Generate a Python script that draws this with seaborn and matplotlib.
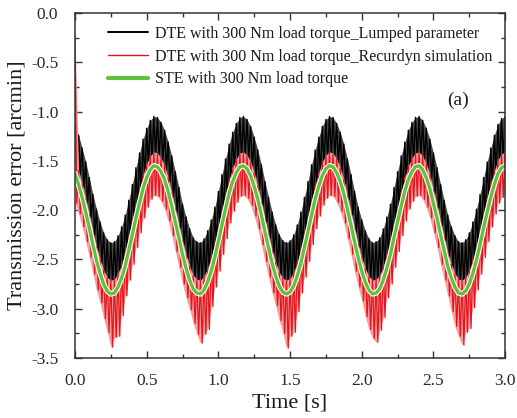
import numpy as np
import pandas as pd
import matplotlib
matplotlib.use("Agg")
import matplotlib.pyplot as plt
import matplotlib.patheffects as pe
from matplotlib.lines import Line2D
from matplotlib.ticker import MultipleLocator
import seaborn as sns

# ---------------- data (step 0.025 s) ----------------
time_s = np.round(np.arange(0, 121) * 0.025, 4)

ste = [-1.63, -1.74, -1.87, -2.02, -2.18, -2.35, -2.51, -2.64, -2.75, -2.82, -2.85,
       -2.84, -2.78, -2.69, -2.57, -2.41, -2.25, -2.08, -1.93, -1.78, -1.67, -1.59,
       -1.55, -1.56, -1.61, -1.69, -1.81, -1.96, -2.12, -2.28, -2.45, -2.59, -2.71,
       -2.80, -2.84, -2.85, -2.81, -2.73, -2.62, -2.48, -2.32, -2.15, -1.99, -1.83,
       -1.71, -1.62, -1.56, -1.55, -1.58, -1.65, -1.76, -1.89, -2.05, -2.22, -2.38,
       -2.54, -2.67, -2.77, -2.83, -2.85, -2.83, -2.77, -2.67, -2.54, -2.38, -2.22,
       -2.05, -1.89, -1.76, -1.65, -1.58, -1.55, -1.56, -1.62, -1.71, -1.83, -1.99,
       -2.15, -2.32, -2.48, -2.62, -2.73, -2.81, -2.85, -2.84, -2.80, -2.71, -2.59,
       -2.45, -2.28, -2.12, -1.96, -1.81, -1.69, -1.61, -1.56, -1.55, -1.59, -1.67,
       -1.78, -1.93, -2.08, -2.25, -2.41, -2.57, -2.69, -2.78, -2.84, -2.85, -2.82,
       -2.75, -2.64, -2.51, -2.35, -2.18, -2.02, -1.87, -1.74, -1.63, -1.57, -1.55]

dte_lumped_upper = [
    -1.13, -1.24, -1.37, -1.51, -1.67, -1.84, -1.99, -2.12, -2.23, -2.30, -2.33,
    -2.32, -2.26, -2.17, -2.05, -1.90, -1.74, -1.57, -1.42, -1.28, -1.17, -1.09,
    -1.05, -1.06, -1.11, -1.19, -1.31, -1.45, -1.61, -1.77, -1.94, -2.07, -2.19,
    -2.28, -2.32, -2.33, -2.29, -2.21, -2.10, -1.97, -1.81, -1.64, -1.48, -1.33,
    -1.21, -1.12, -1.06, -1.05, -1.08, -1.15, -1.26, -1.39, -1.54, -1.71, -1.87,
    -2.02, -2.15, -2.25, -2.31, -2.33, -2.31, -2.25, -2.15, -2.02, -1.87, -1.71,
    -1.54, -1.39, -1.26, -1.15, -1.08, -1.05, -1.06, -1.12, -1.21, -1.33, -1.48,
    -1.64, -1.81, -1.97, -2.10, -2.21, -2.29, -2.33, -2.32, -2.28, -2.19, -2.07,
    -1.94, -1.77, -1.61, -1.45, -1.31, -1.19, -1.11, -1.06, -1.05, -1.09, -1.17,
    -1.28, -1.42, -1.57, -1.74, -1.90, -2.05, -2.17, -2.26, -2.32, -2.33, -2.30,
    -2.23, -2.12, -1.99, -1.84, -1.67, -1.51, -1.37, -1.24, -1.13, -1.07, -1.05]

dte_lumped_lower = [
    -1.53, -1.64, -1.77, -1.92, -2.08, -2.25, -2.41, -2.54, -2.65, -2.72, -2.75,
    -2.74, -2.68, -2.59, -2.47, -2.31, -2.15, -1.98, -1.83, -1.68, -1.57, -1.49,
    -1.45, -1.46, -1.51, -1.59, -1.71, -1.86, -2.02, -2.18, -2.35, -2.49, -2.61,
    -2.70, -2.74, -2.75, -2.71, -2.63, -2.52, -2.38, -2.22, -2.05, -1.89, -1.73,
    -1.61, -1.52, -1.46, -1.45, -1.48, -1.55, -1.66, -1.79, -1.95, -2.12, -2.28,
    -2.44, -2.57, -2.67, -2.73, -2.75, -2.73, -2.67, -2.57, -2.44, -2.28, -2.12,
    -1.95, -1.79, -1.66, -1.55, -1.48, -1.45, -1.46, -1.52, -1.61, -1.73, -1.89,
    -2.05, -2.22, -2.38, -2.52, -2.63, -2.71, -2.75, -2.74, -2.70, -2.61, -2.49,
    -2.35, -2.18, -2.02, -1.86, -1.71, -1.59, -1.51, -1.46, -1.45, -1.49, -1.57,
    -1.68, -1.83, -1.98, -2.15, -2.31, -2.47, -2.59, -2.68, -2.74, -2.75, -2.72,
    -2.65, -2.54, -2.41, -2.25, -2.08, -1.92, -1.77, -1.64, -1.53, -1.47, -1.45]

dte_recurdyn_upper = [
    -0.22, -1.60, -1.73, -1.88, -2.04, -2.21, -2.37, -2.50, -2.61, -2.68, -2.71,
    -2.70, -2.64, -2.55, -2.43, -2.27, -2.11, -1.94, -1.79, -1.64, -1.53, -1.45,
    -1.41, -1.42, -1.47, -1.55, -1.67, -1.82, -1.98, -2.14, -2.31, -2.45, -2.57,
    -2.66, -2.70, -2.71, -2.67, -2.59, -2.48, -2.34, -2.18, -2.01, -1.85, -1.69,
    -1.57, -1.48, -1.42, -1.41, -1.44, -1.51, -1.62, -1.75, -1.91, -2.08, -2.24,
    -2.40, -2.53, -2.63, -2.69, -2.71, -2.69, -2.63, -2.53, -2.40, -2.24, -2.08,
    -1.91, -1.75, -1.62, -1.51, -1.44, -1.41, -1.42, -1.48, -1.57, -1.69, -1.85,
    -2.01, -2.18, -2.34, -2.48, -2.59, -2.67, -2.71, -2.70, -2.66, -2.57, -2.45,
    -2.31, -2.14, -1.98, -1.82, -1.67, -1.55, -1.47, -1.42, -1.41, -1.45, -1.53,
    -1.64, -1.79, -1.94, -2.11, -2.27, -2.43, -2.55, -2.64, -2.70, -2.71, -2.68,
    -2.61, -2.50, -2.37, -2.21, -2.04, -1.88, -1.73, -1.60, -1.49, -1.43, -1.41]

dte_recurdyn_lower = [
    -1.93, -2.04, -2.17, -2.32, -2.48, -2.65, -2.81, -2.94, -3.10, -3.24, -3.39,
    -3.29, -3.28, -3.07, -2.87, -2.71, -2.55, -2.38, -2.23, -2.08, -1.97, -1.89,
    -1.85, -1.86, -1.91, -1.99, -2.11, -2.26, -2.42, -2.58, -2.75, -2.89, -3.01,
    -3.15, -3.26, -3.35, -3.26, -3.21, -2.98, -2.78, -2.62, -2.45, -2.29, -2.13,
    -2.01, -1.92, -1.86, -1.85, -1.88, -1.95, -2.06, -2.19, -2.35, -2.52, -2.68,
    -2.84, -2.97, -3.12, -3.25, -3.40, -3.28, -3.24, -3.03, -2.84, -2.68, -2.52,
    -2.35, -2.19, -2.06, -1.95, -1.88, -1.85, -1.86, -1.92, -2.01, -2.13, -2.29,
    -2.45, -2.62, -2.78, -2.92, -3.08, -3.21, -3.30, -3.34, -3.22, -3.09, -2.89,
    -2.75, -2.58, -2.42, -2.26, -2.11, -1.99, -1.91, -1.86, -1.85, -1.89, -1.97,
    -2.08, -2.23, -2.38, -2.55, -2.71, -2.87, -3.03, -3.18, -3.28, -3.37, -3.24,
    -3.20, -2.99, -2.81, -2.65, -2.48, -2.32, -2.17, -2.04, -1.93, -1.87, -1.85]

legend_labels = ["DTE with 300 Nm load torque_Lumped parameter",
                 "DTE with 300 Nm load torque_Recurdyn simulation",
                 "STE with 300 Nm load torque"]
x_ticks = [0.0, 0.5, 1.0, 1.5, 2.0, 2.5, 3.0]
y_ticks = [0.0, -0.5, -1.0, -1.5, -2.0, -2.5, -3.0, -3.5]


def zigzag(t, upper, lower):
    """Dense oscillation: alternate between the read upper and lower envelope."""
    half = (t[1] - t[0]) / 2.0
    xs, ys = [], []
    for ti, u, l in zip(t, upper, lower):
        xs += [ti, ti + half]
        ys += [u, l]
    return pd.DataFrame({"t": xs, "v": ys})


# ---------------- figure ----------------
sns.set_theme(style="ticks")
plt.rcParams["font.family"] = ["Liberation Serif", "DejaVu Serif"]

fig = plt.figure(figsize=(5.17, 4.18), dpi=100)
ax = fig.add_axes([0.145, 0.1435, 0.832, 0.8255])

t = time_s
# black: lumped parameter
ax.fill_between(t, dte_lumped_upper, dte_lumped_lower, color="#4a4a4a", lw=0, zorder=2)
sns.lineplot(data=zigzag(t, dte_lumped_upper, dte_lumped_lower), x="t", y="v",
             sort=False, estimator=None, color="black", lw=1.0, ax=ax, zorder=3)
# red: recurdyn
ax.fill_between(t, dte_recurdyn_upper, dte_recurdyn_lower, color="#f2a0a0", lw=0, zorder=4)
sns.lineplot(data=zigzag(t, dte_recurdyn_upper, dte_recurdyn_lower), x="t", y="v",
             sort=False, estimator=None, color="#e8141b", lw=0.9, ax=ax, zorder=5)
# green: STE
sns.lineplot(x=t, y=ste, color="#62c03a", lw=2.4, ax=ax, zorder=7,
             path_effects=[pe.Stroke(linewidth=4.0, foreground="white"), pe.Normal()])

ax.set_xlim(0, 3.0)
ax.set_ylim(-3.5, 0.0)
ax.set_xticks(x_ticks)
ax.set_yticks(y_ticks)
ax.set_xticklabels([f"{v:.1f}" for v in x_ticks])
ax.set_yticklabels([f"{v:.1f}" for v in y_ticks])
ax.xaxis.set_minor_locator(MultipleLocator(0.25))
ax.yaxis.set_minor_locator(MultipleLocator(0.25))
ax.tick_params(which="both", direction="in", top=True, right=True, colors="#333333",
               labelcolor="#2a2a2a", labelsize=12.5, width=1.0)
ax.tick_params(which="major", length=5)
ax.tick_params(which="minor", length=3)
ax.tick_params(axis="x", which="major", pad=11)
ax.tick_params(axis="y", which="major", pad=12)
for s in ax.spines.values():
    s.set_color("#333333")
    s.set_linewidth(1.1)
    s.set_zorder(10)

ax.set_xlabel("Time [s]", fontsize=16, color="#1a1a1a", labelpad=3)
ax.set_ylabel("Transmission error [arcmin]", fontsize=16, color="#1a1a1a", labelpad=3)

handles = [Line2D([], [], color="black", lw=1.4),
           Line2D([], [], color="#e8141b", lw=1.0),
           Line2D([], [], color="#62c03a", lw=3.0)]
leg = ax.legend(handles, legend_labels, loc="upper left", bbox_to_anchor=(0.055, 0.99),
                frameon=False, fontsize=11.5, handlelength=2.5, handletextpad=0.45,
                labelspacing=0.42, borderaxespad=0.2)
for txt in leg.get_texts():
    txt.set_color("#1a1a1a")

ax.text(0.89, 0.748, "(a)", transform=ax.transAxes, ha="center", va="center",
        fontsize=14, color="#1a1a1a")

fig.savefig("out.png", dpi=100)
